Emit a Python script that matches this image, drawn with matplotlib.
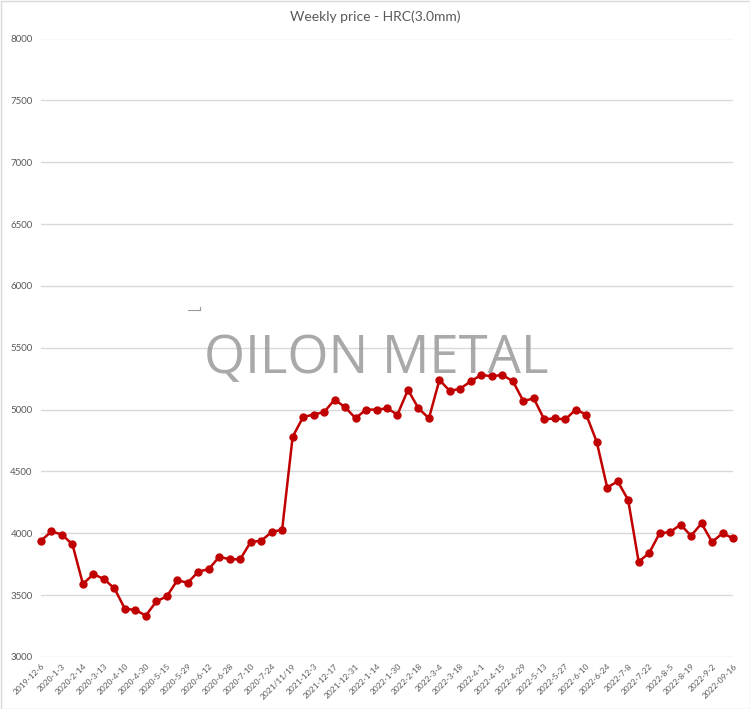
import matplotlib
matplotlib.use("Agg")
import matplotlib.pyplot as plt
from matplotlib.lines import Line2D
from matplotlib.patches import Rectangle

title = "Weekly price - HRC(3.0mm)"
watermark = "QILON METAL"

tick_labels = ["2019-12-6", "2020-1-3", "2020-2-14", "2020-3-13", "2020-4-10", "2020-4-30",
               "2020-5-15", "2020-5-29", "2020-6-12", "2020-6-28", "2020-7-10", "2020-7-24",
               "2021/11/19", "2021-12-3", "2021-12-17", "2021-12-31", "2022-1-14", "2022-1-30",
               "2022-2-18", "2022-3-4", "2022-3-18", "2022-4-1", "2022-4-15", "2022-4-29",
               "2022-5-13", "2022-5-27", "2022-6-10", "2022-6-24", "2022-7-8", "2022-7-22",
               "2022-8-5", "2022-8-19", "2022-9-2", "2022-09-16"]

prices = [3940, 4015, 3990, 3910, 3590, 3670, 3630, 3555, 3390, 3380,
          3335, 3450, 3490, 3620, 3600, 3690, 3710, 3810, 3790, 3790,
          3930, 3940, 4010, 4030, 4780, 4940, 4960, 4980, 5080, 5020,
          4930, 5000, 5000, 5010, 4960, 5160, 5010, 4930, 5240, 5150,
          5170, 5230, 5280, 5270, 5280, 5230, 5070, 5090, 4920, 4930,
          4920, 5000, 4960, 4740, 4370, 4420, 4270, 3770, 3840, 4000,
          4010, 4070, 3980, 4080, 3930, 4000, 3960]

y_ticks = [3000, 3500, 4000, 4500, 5000, 5500, 6000, 6500, 7000, 7500, 8000]

fig = plt.figure(figsize=(7.5, 7.09), dpi=100)
W, H = 750, 709
ax = fig.add_axes([41 / W, 1 - 657 / H, (733 - 41) / W, (657 - 38.5) / H])

x = list(range(len(prices)))
ax.plot(x, prices, color="#C00000", linewidth=1.8, marker="o", markersize=5,
        markerfacecolor="#C00000", markeredgecolor="#C00000", zorder=3, clip_on=False)

ax.set_xlim(0, len(prices) - 1)
ax.set_ylim(3000, 8000)
ax.set_yticks(y_ticks)
ax.set_yticklabels([str(v) for v in y_ticks], fontsize=7, color="#595959", family="Lato")
ax.set_xticks(x[::2])
ax.set_xticklabels(tick_labels, rotation=45, ha="right", rotation_mode="anchor",
                   fontsize=6, color="#595959", family="Lato")
ax.tick_params(axis="both", length=0)
ax.tick_params(axis="y", pad=6)
ax.tick_params(axis="x", pad=4)
ax.grid(axis="y", color="#D9D9D9", linewidth=1)
ax.set_axisbelow(True)
for s in ax.spines.values():
    s.set_visible(False)

fig.text(375 / W, 1 - 17 / H, title, ha="center", va="center", fontsize=10,
         color="#595959", family="Lato")

fig.text(376 / W, 1 - 373 / H, watermark, ha="center", va="baseline", fontsize=38,
         color="#9a9a9a", alpha=0.85, family="Open Sans", zorder=10)

# small artifact mark
fig.add_artist(Line2D([188 / W, 200 / W], [1 - 310 / H, 1 - 310 / H], color="#999999", linewidth=0.8))
fig.add_artist(Line2D([200 / W, 200 / W], [1 - 310 / H, 1 - 307 / H], color="#999999", linewidth=0.8))

# figure border
fig.add_artist(Rectangle((0.5 / W, 0.5 / H), 1 - 1 / W, 1 - 1 / H, transform=fig.transFigure,
                         fill=False, edgecolor="#D9D9D9", linewidth=1))

fig.savefig("out.png", dpi=100, facecolor="white")
